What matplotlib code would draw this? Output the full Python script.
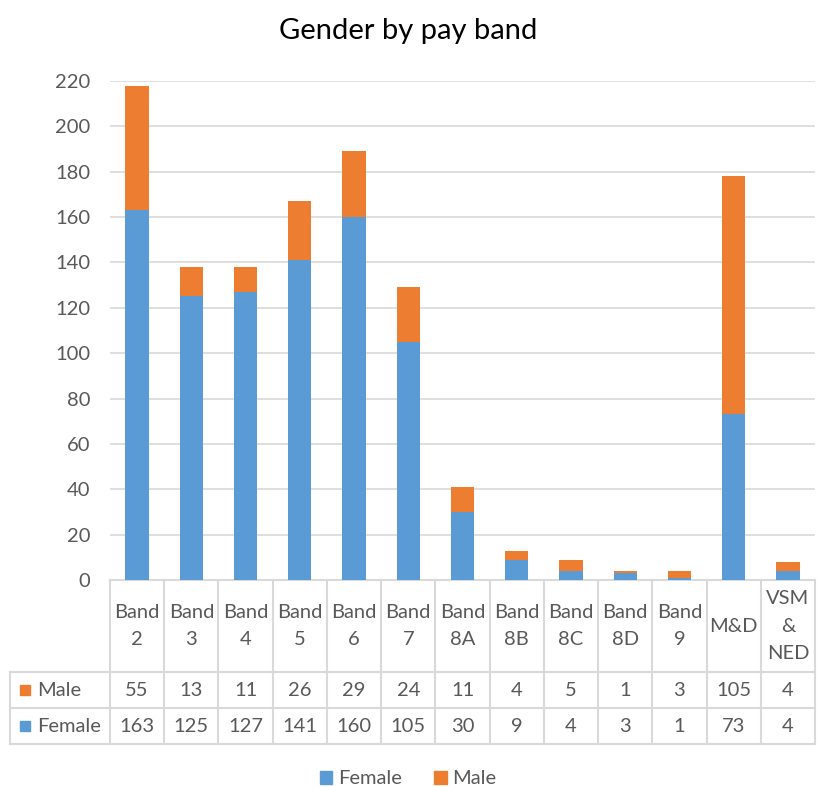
import matplotlib
matplotlib.use("Agg")
import matplotlib.pyplot as plt
from matplotlib.patches import Patch, Rectangle
from matplotlib.transforms import blended_transform_factory

categories = ["Band\n2", "Band\n3", "Band\n4", "Band\n5", "Band\n6", "Band\n7",
              "Band\n8A", "Band\n8B", "Band\n8C", "Band\n8D", "Band\n9", "M&D",
              "VSM\n&\nNED"]
male = [55, 13, 11, 26, 29, 24, 11, 4, 5, 1, 3, 105, 4]
female = [163, 125, 127, 141, 160, 105, 30, 9, 4, 3, 1, 73, 4]
yticks = list(range(0, 221, 20))

BLUE = "#5b9bd5"
ORANGE = "#ed7d31"
GREY = "#595959"
LINE = "#d9d9d9"
FONT = ["Lato", "DejaVu Sans"]
FS = 14.5

plt.rcParams['font.family'] = FONT

W, H = 817, 787
fig = plt.figure(figsize=(W / 100, H / 100), dpi=100)

def fy(py):
    return 1 - py / H

left, right = 110, 815
ytop, ybot = 81, 580
ax = fig.add_axes([left / W, fy(ybot), (right - left) / W, (ybot - ytop) / H])

x = list(range(len(categories)))
ax.bar(x, female, width=0.43, color=BLUE, zorder=3)
ax.bar(x, male, width=0.43, bottom=female, color=ORANGE, zorder=3)

ax.set_xlim(-0.5, len(categories) - 0.5)
ax.set_ylim(0, 220)
ax.set_yticks(yticks)
ax.tick_params(axis='y', length=0, labelsize=FS, labelcolor=GREY, pad=14)
ax.set_xticks([])
ax.grid(axis='y', color=LINE, linewidth=1.2, zorder=0)
for s in ["top", "right", "left"]:
    ax.spines[s].set_visible(False)
ax.spines["bottom"].set_color(LINE)
ax.spines["bottom"].set_linewidth(1.5)

fig.text(0.5, fy(31), "Gender by pay band", ha='center', va='center',
         fontsize=21, color="#000000")

# data table below the axis
tr = blended_transform_factory(ax.transData, fig.transFigure)
header_bot, male_bot, female_bot = 672, 708, 744
n = len(categories)
lw = 1.5
for i in range(n + 1):
    xb = i - 0.5
    ax.plot([xb, xb], [fy(ybot), fy(female_bot)], color=LINE, lw=lw,
            transform=tr, clip_on=False)
for yy in [header_bot, male_bot, female_bot]:
    fig.add_artist(plt.Line2D([10 / W, right / W], [fy(yy), fy(yy)],
                              color=LINE, lw=lw))
fig.add_artist(plt.Line2D([10 / W, 10 / W], [fy(header_bot), fy(female_bot)],
                          color=LINE, lw=lw))

for i, cat in enumerate(categories):
    ax.text(i, fy((ybot + header_bot) / 2), cat, transform=tr, ha='center',
            va='center', fontsize=FS, color=GREY, linespacing=1.75)
    ax.text(i, fy((header_bot + male_bot) / 2), str(male[i]), transform=tr,
            ha='center', va='center', fontsize=FS, color=GREY)
    ax.text(i, fy((male_bot + female_bot) / 2), str(female[i]), transform=tr,
            ha='center', va='center', fontsize=FS, color=GREY)

for label, color, y0, y1 in [("Male", ORANGE, header_bot, male_bot),
                             ("Female", BLUE, male_bot, female_bot)]:
    yc = (y0 + y1) / 2
    fig.add_artist(Rectangle((20 / W, fy(yc + 5)), 10 / W, 10 / H,
                             color=color, transform=fig.transFigure))
    fig.text(37 / W, fy(yc), label, ha='left', va='center',
             fontsize=FS, color=GREY)

handles = [Patch(color=BLUE, label="Female"), Patch(color=ORANGE, label="Male")]
fig.legend(handles=handles, loc='center', bbox_to_anchor=(0.5, fy(779)),
           ncol=2, frameon=False, fontsize=FS, labelcolor=GREY,
           handlelength=0.6, handleheight=0.6, handletextpad=0.3,
           columnspacing=1.6)

fig.savefig("out.png", dpi=100)
